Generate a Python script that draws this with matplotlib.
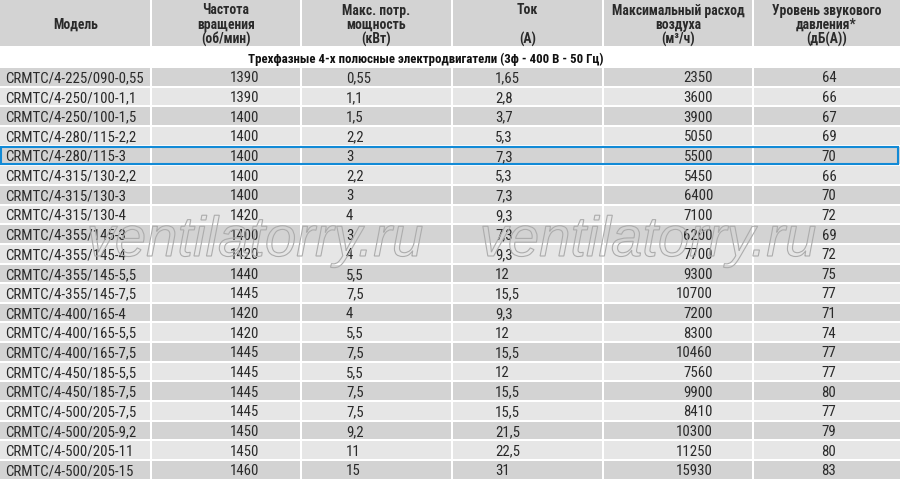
import matplotlib
matplotlib.use("Agg")
import matplotlib.pyplot as plt
from matplotlib import font_manager
from matplotlib.patches import Rectangle
from matplotlib import patheffects

# table data
headers = [
    ["", "Модель", ""],
    ["Частота", "вращения", "(об/мин)"],
    ["Макс. потр.", "мощность", "(кВт)"],
    ["Ток", "", "(А)"],
    ["Максимальный расход", "воздуха", "(м³/ч)"],
    ["Уровень звукового", "давления*", "(дБ(А))"],
]
subtitle = "Трехфазные 4-х полюсные электродвигатели (3ф - 400 В - 50 Гц)"

models = [
    "CRMTC/4-225/090-0,55", "CRMTC/4-250/100-1,1", "CRMTC/4-250/100-1,5",
    "CRMTC/4-280/115-2,2", "CRMTC/4-280/115-3", "CRMTC/4-315/130-2,2",
    "CRMTC/4-315/130-3", "CRMTC/4-315/130-4", "CRMTC/4-355/145-3",
    "CRMTC/4-355/145-4", "CRMTC/4-355/145-5,5", "CRMTC/4-355/145-7,5",
    "CRMTC/4-400/165-4", "CRMTC/4-400/165-5,5", "CRMTC/4-400/165-7,5",
    "CRMTC/4-450/185-5,5", "CRMTC/4-450/185-7,5", "CRMTC/4-500/205-7,5",
    "CRMTC/4-500/205-9,2", "CRMTC/4-500/205-11", "CRMTC/4-500/205-15",
]
rpm = [1390, 1390, 1400, 1400, 1400, 1400, 1400, 1420, 1400, 1420, 1440,
       1445, 1420, 1420, 1445, 1445, 1445, 1445, 1450, 1450, 1460]
power = [0.55, 1.1, 1.5, 2.2, 3, 2.2, 3, 4, 3, 4, 5.5, 7.5, 4, 5.5, 7.5,
         5.5, 7.5, 7.5, 9.2, 11, 15]
current = [1.65, 2.8, 3.7, 5.3, 7.3, 5.3, 7.3, 9.3, 7.3, 9.3, 12, 15.5, 9.3,
           12, 15.5, 12, 15.5, 15.5, 21.5, 22.5, 31]
airflow = [2350, 3600, 3900, 5050, 5500, 5450, 6400, 7100, 6200, 7700, 9300,
           10700, 7200, 8300, 10460, 7560, 9900, 8410, 10300, 11250, 15930]
noise = [64, 66, 67, 69, 70, 66, 70, 72, 69, 72, 75, 77, 71, 74, 77, 77, 80,
         77, 79, 80, 83]
highlight = 4
watermark = "ventilatorry.ru"


def pick_font(cands):
    for name in cands:
        try:
            font_manager.findfont(font_manager.FontProperties(family=name),
                                  fallback_to_default=False)
            return name
        except Exception:
            pass
    return "DejaVu Sans"


narrow = pick_font(["Liberation Sans Narrow", "Roboto Condensed",
                    "Open Sans Condensed", "Liberation Sans"])


def fmt(v):
    return f"{v:g}".replace(".", ",")


W, H = 900, 481
fig = plt.figure(figsize=(W / 100, H / 100), dpi=100)
ax = fig.add_axes([0, 0, 1, 1])
ax.set_xlim(0, W)
ax.set_ylim(H, 0)
ax.axis("off")

edges = [0, 151, 301, 452, 603, 753, 900]
head_h = 47
top0 = 69
pitch = 19.65
gap = 2
dark = "#d3d3d3"
light = "#e6e6e6"
txt = "#2a2a2a"

# header
for j, lines in enumerate(headers):
    x0 = edges[j] + (1 if j > 0 else 0)
    x1 = edges[j + 1] - (1 if j < 5 else 0)
    ax.add_patch(Rectangle((x0, 0), x1 - x0, head_h, color=dark, lw=0))
    cx = (edges[j] + edges[j + 1]) / 2
    for k, line in enumerate(lines):
        if line:
            ax.text(cx, 10.5 + 14.5 * k, line, ha="center", va="center",
                    fontsize=9.8, fontweight="bold", family=[narrow, "DejaVu Sans"],
                    color=txt)

ax.text(426, 59.5, subtitle, ha="center", va="center", fontsize=9.3,
        fontweight="bold", family=[narrow, "DejaVu Sans"], color="#111111")

# data rows
cols = [
    (models, "left", 5),
    ([str(v) for v in rpm], "left", 230),
    ([fmt(v) for v in power], "left", 346),
    ([fmt(v) for v in current], "left", 495),
    ([str(v) for v in airflow], "right", 713),
    ([str(v) for v in noise], "center", 829),
]
rh = pitch - gap
for i in range(len(models)):
    y = top0 + i * pitch
    bg = dark if i % 2 == 0 else light
    for j in range(6):
        x0 = edges[j] + (1 if j > 0 else 0)
        x1 = edges[j + 1] - (1 if j < 5 else 0)
        ax.add_patch(Rectangle((x0, y), x1 - x0, rh, color=bg, lw=0))
        vals, ha, tx = cols[j]
        ax.text(tx, y + rh / 2 + 0.5, vals[i], ha=ha, va="center",
                fontsize=10.7, family=[narrow, "DejaVu Sans"], color=txt)

# highlighted row
yh = top0 + highlight * pitch
ax.add_patch(Rectangle((1, yh), 896.5, rh, fill=False, ec="#128ad6", lw=1.5))

# watermark
for cx in [255, 648]:
    ax.text(cx, 257, watermark, ha="center", va="baseline", fontsize=40.5,
            style="italic", family="Liberation Sans", color="none",
            path_effects=[patheffects.PathPatchEffect(
                facecolor="none", edgecolor="#acacac", linewidth=0.8)])

fig.savefig("out.png", dpi=100)
